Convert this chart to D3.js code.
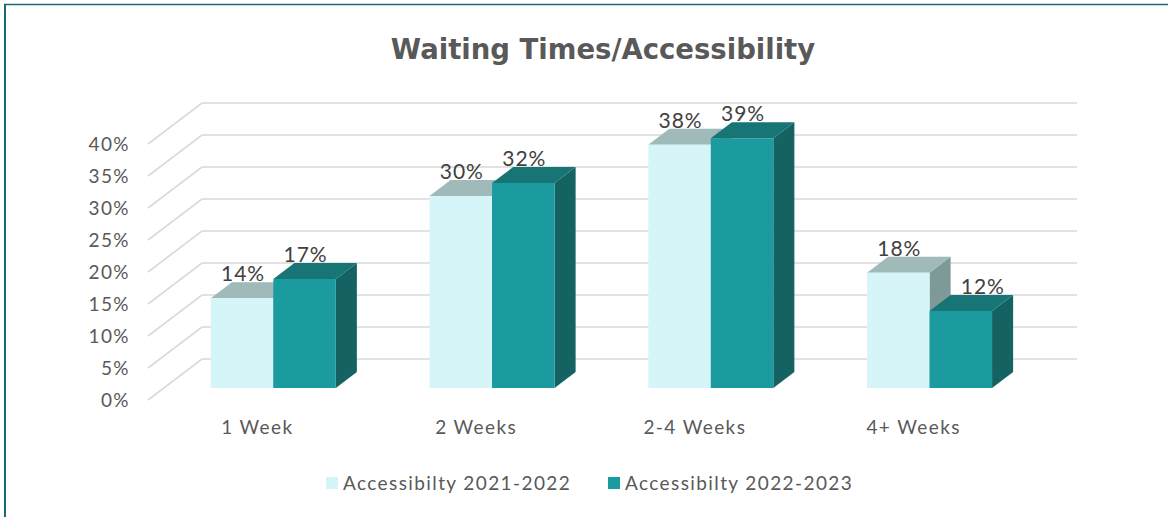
<!DOCTYPE html>
<html><head><meta charset="utf-8">
<script src="https://cdn.jsdelivr.net/npm/d3@7/dist/d3.min.js"></script>
<style>
html,body{margin:0;padding:0;background:#fff;}
svg{display:block;}
text{font-family:"Lato","Open Sans",sans-serif;}
</style></head>
<body>
<svg id="chart" width="1168" height="517"></svg>
<script>
const categories = ["1 Week", "2 Weeks", "2-4 Weeks", "4+ Weeks"];
const seriesNames = ["Accessibilty 2021-2022", "Accessibilty 2022-2023"];
const values2122 = [0.14, 0.30, 0.38, 0.18];
const values2223 = [0.17, 0.32, 0.39, 0.12];
const yTicks = [0, 0.05, 0.10, 0.15, 0.20, 0.25, 0.30, 0.35, 0.40];
const title = "Waiting Times/Accessibility";

const colors = [
  {front:"#d5f5f8", top:"#a0b9b9", side:"#7f9898"},
  {front:"#1b9aa0", top:"#177576", side:"#146262"}
];

const svg = d3.select("#chart");
const W = 1168, H = 517;

// frame
svg.append("line").attr("x1",4).attr("x2",W).attr("y1",4.5).attr("y2",4.5)
  .attr("stroke","#176a72").attr("stroke-width",1.5);
svg.append("line").attr("x1",5).attr("x2",5).attr("y1",4).attr("y2",H)
  .attr("stroke","#176a72").attr("stroke-width",2);

// title
svg.append("text").attr("x",603).attr("y",59).attr("text-anchor","middle")
  .attr("font-size",27.5).attr("font-weight","bold").attr("fill","#595959")
  .style("font-family","'DejaVu Sans', sans-serif").text(title);

// 3D oblique projection
const depthDX = 54, depthDY = -41;
const x = d3.scaleBand().domain(categories).range([148, 1023]).paddingInner(0).paddingOuter(0);
const y = d3.scaleLinear().domain([0, 0.40]).range([400, 144]);
// Excel gap width 150%: band = 2w + 1.5w
const barW = x.bandwidth() / 3.5;
function P(px, v, z){ return [px + z*depthDX, y(v) + z*depthDY]; }

const g = svg.append("g");
// gridlines: left side wall + back wall
yTicks.forEach(t => {
  const a = P(148, t, 0), b = P(148, t, 1), c = P(1023, t, 1);
  g.append("path").attr("d", d3.line()([a,b,c]))
    .attr("fill","none").attr("stroke","#d9d9d9").attr("stroke-width",1.6);
});

const ls = 1.4;
// y axis labels
svg.append("g").selectAll("text").data(yTicks).join("text")
  .attr("x",130).attr("y",t => y(t)+7).attr("text-anchor","end")
  .attr("font-size",19).attr("letter-spacing",ls).attr("fill","#595959")
  .text(d3.format(".0%"));

// category labels
svg.append("g").selectAll("text").data(categories).join("text")
  .attr("x",c => x(c)+x.bandwidth()/2).attr("y",434).attr("text-anchor","middle")
  .attr("font-size",19).attr("letter-spacing",ls).attr("fill","#595959").text(c => c);

// bars
const z0 = 0.295, z1 = 0.685;
const series = [values2122, values2223];
series.forEach((vals, si) => {
  const col = colors[si];
  const sg = svg.append("g");
  categories.forEach((c, ci) => {
    const v = vals[ci];
    const xl = x(c) + barW*0.75 + si*barW, xr = xl + barW;
    const front = [P(xl,0,z0),P(xr,0,z0),P(xr,v,z0),P(xl,v,z0)];
    const top = [P(xl,v,z0),P(xr,v,z0),P(xr,v,z1),P(xl,v,z1)];
    const side = [P(xr,0,z0),P(xr,0,z1),P(xr,v,z1),P(xr,v,z0)];
    const poly = pts => "M" + pts.map(p => p.join(",")).join("L") + "Z";
    sg.append("path").attr("d",poly(side)).attr("fill",col.side);
    sg.append("path").attr("d",poly(top)).attr("fill",col.top);
    sg.append("path").attr("d",poly(front)).attr("fill",col.front);
  });
});
// data labels
series.forEach((vals, si) => {
  svg.append("g").selectAll("text").data(categories).join("text")
    .attr("x",(c,ci) => { const xl = x(c) + barW*0.75 + si*barW; return P(xl+barW/2, vals[ci], z0)[0] + (si===1 && vals[ci] < series[0][ci] ? 22 : 1); })
    .attr("y",(c,ci) => P(0, vals[ci], z1)[1] - 1)
    .attr("text-anchor","middle").attr("font-size",21).attr("letter-spacing",1).attr("fill","#404040")
    .text((c,ci) => d3.format(".0%")(vals[ci]));
});

// legend
const leg = svg.append("g");
const legX = [326, 608];
seriesNames.forEach((n, i) => {
  leg.append("rect").attr("x",legX[i]).attr("y",477).attr("width",12).attr("height",12).attr("fill",colors[i].front);
  leg.append("text").attr("x",legX[i]+17).attr("y",490).attr("font-size",19).attr("letter-spacing",ls).attr("fill","#595959").text(n);
});
</script>
</body></html>
